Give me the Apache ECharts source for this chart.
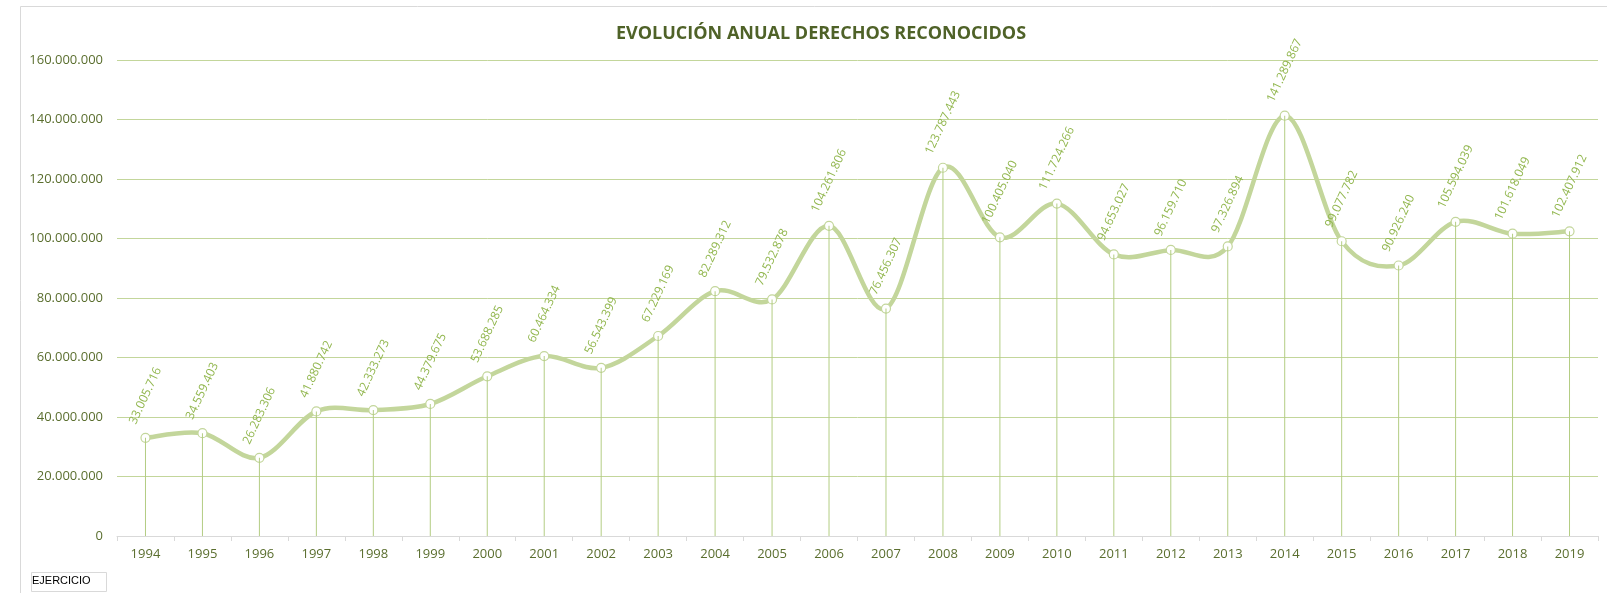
<!DOCTYPE html>
<html style="height: 100%">
<head>
    <meta charset="utf-8">
    <script src="https://cdn.jsdelivr.net/npm/echarts@6/dist/echarts.min.js"></script>
</head>
<body style="height: 100%; margin: 0; background: #fff">
<div id="evolucion_container" style="height: 593px; width: 1607px"></div>
<script type="text/javascript">

    // datos del grafico
    var ejercicios = ['1994', '1995', '1996', '1997', '1998', '1999', '2000', '2001', '2002', '2003',
        '2004', '2005', '2006', '2007', '2008', '2009', '2010', '2011', '2012', '2013',
        '2014', '2015', '2016', '2017', '2018', '2019'];
    var derechos = [33005716, 34559403, 26283306, 41880742, 42333273, 44379675, 53688285, 60464334,
        56543399, 67229169, 82289312, 79532878, 104261806, 76456307, 123787443, 100405040,
        111724266, 94653027, 96159710, 97326894, 141289867, 99077782, 90926240, 105594039,
        101618049, 102407912];
    var eje_y_min = 0;
    var eje_y_max = 160000000;
    var eje_y_paso = 20000000;

    function formatoMiles(v) {
        return String(v).replace(/\B(?=(\d{3})+(?!\d))/g, '.');
    }

    var colorVerde = '#c3d69b';
    var colorEtiqueta = '#92b74f';
    var colorTexto = '#5a6e2e';

    // cada punto con su etiqueta girada, mas alta cuanto mas larga
    var puntos = derechos.map(function (v) {
        var txt = formatoMiles(v);
        return {
            value: v,
            label: {distance: 7 + 3 * txt.length}
        };
    });

    // tramo suavizado tipo excel (catmull-rom) entre el punto i y el i+1
    function tramoSuave(params, api) {
        var i = params.dataIndex;
        var n = derechos.length;
        if (i >= n - 1) return null;
        var p0 = api.coord([Math.max(i - 1, 0), derechos[Math.max(i - 1, 0)]]);
        var p1 = api.coord([i, derechos[i]]);
        var p2 = api.coord([i + 1, derechos[i + 1]]);
        var p3 = api.coord([Math.min(i + 2, n - 1), derechos[Math.min(i + 2, n - 1)]]);
        return {
            type: 'bezierCurve',
            shape: {
                x1: p1[0], y1: p1[1],
                x2: p2[0], y2: p2[1],
                cpx1: p1[0] + (p2[0] - p0[0]) / 6,
                cpy1: p1[1] + (p2[1] - p0[1]) / 6,
                cpx2: p2[0] - (p3[0] - p1[0]) / 6,
                cpy2: p2[1] - (p3[1] - p1[1]) / 6
            },
            style: {
                fill: 'none',
                stroke: colorVerde,
                lineWidth: 4.5,
                lineCap: 'round'
            }
        };
    }

    var evolucion_chart = echarts.init(document.getElementById('evolucion_container'));

    var evolucion_option = {
        animation: false,
        title: {
            text: 'EVOLUCIÓN ANUAL DERECHOS RECONOCIDOS',
            left: 816,
            top: 19,
            textAlign: 'center',
            textStyle: {
                fontFamily: 'Open Sans',
                fontWeight: 'bold',
                fontSize: 18,
                lineHeight: 20,
                color: '#4f6228'
            }
        },
        grid: {
            left: 117,
            right: 9,
            top: 60,
            bottom: 57
        },
        xAxis: {
            type: 'category',
            data: ejercicios,
            boundaryGap: true,
            axisLine: {lineStyle: {color: '#d9d9d9', width: 1}},
            axisTick: {show: true, length: 5, lineStyle: {color: '#d9d9d9'}},
            axisLabel: {
                margin: 12,
                fontFamily: 'Open Sans',
                fontSize: 13,
                color: colorTexto
            }
        },
        yAxis: {
            type: 'value',
            min: eje_y_min,
            max: eje_y_max,
            interval: eje_y_paso,
            axisLine: {show: false},
            axisTick: {show: false},
            splitLine: {lineStyle: {color: colorVerde, width: 1}},
            axisLabel: {
                margin: 14,
                fontFamily: 'Open Sans',
                fontSize: 13,
                color: colorTexto,
                formatter: function (v) {
                    return formatoMiles(v);
                }
            }
        },
        series: [
            {
                name: 'curva',
                type: 'custom',
                z: 2,
                silent: true,
                renderItem: tramoSuave,
                data: derechos.map(function (v, i) { return [i, v]; })
            },
            {
                name: 'Derechos reconocidos',
                type: 'line',
                z: 3,
                symbol: 'circle',
                symbolSize: 9,
                lineStyle: {width: 0, opacity: 0},
                itemStyle: {color: '#ffffff', borderColor: colorVerde, borderWidth: 1.2},
                label: {
                    show: true,
                    position: 'top',
                    rotate: 65,
                    align: 'center',
                    verticalAlign: 'middle',
                    fontFamily: 'Open Sans',
                    fontSize: 12,
                    color: colorEtiqueta,
                    formatter: function (p) {
                        return formatoMiles(p.value);
                    }
                },
                data: puntos
            },
            {
                name: 'lineas',
                type: 'bar',
                barWidth: 1,
                z: 4,
                silent: true,
                itemStyle: {color: '#b3cd83'},
                data: derechos
            }
        ],
        graphic: [
            {
                type: 'rect',
                silent: true,
                shape: {x: 20.5, y: 6.5, width: 1700, height: 700},
                style: {fill: 'none', stroke: '#d9d9d9', lineWidth: 1}
            },
            {
                type: 'rect',
                silent: true,
                shape: {x: 31.5, y: 572.5, width: 75, height: 19},
                style: {fill: '#ffffff', stroke: '#d9d9d9', lineWidth: 1}
            },
            {
                type: 'text',
                silent: true,
                left: 32,
                top: 575,
                style: {
                    text: 'EJERCICIO',
                    fontFamily: 'Liberation Sans',
                    fontSize: 11,
                    fill: '#000000'
                }
            }
        ]
    };

    evolucion_chart.setOption(evolucion_option, true);
</script>
</body>
</html>
